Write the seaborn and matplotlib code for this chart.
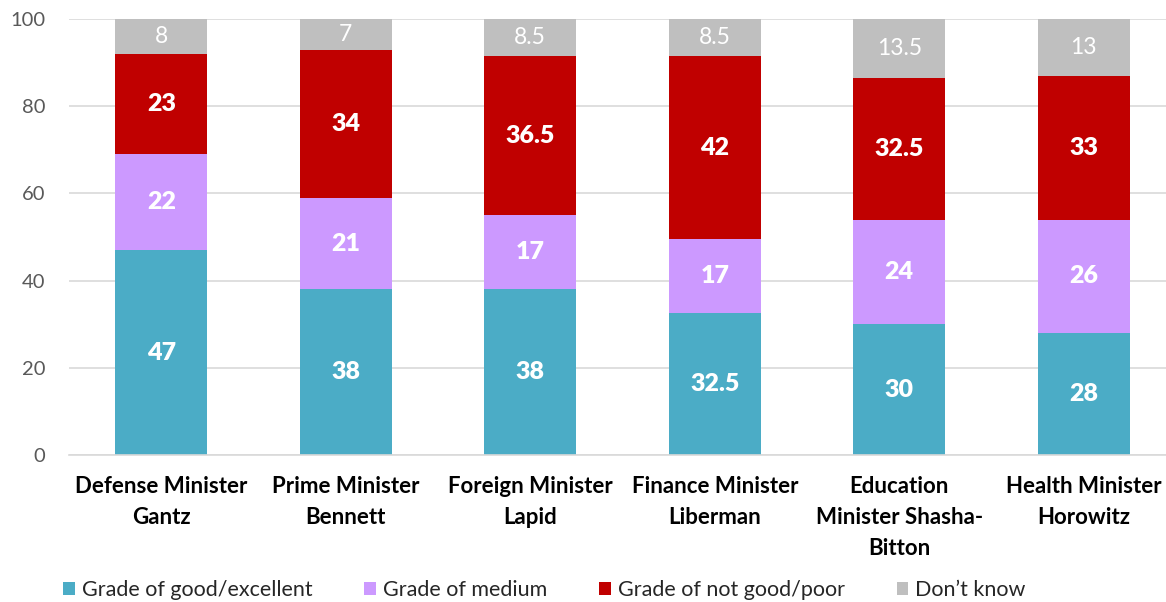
import matplotlib
matplotlib.use("Agg")
import matplotlib.pyplot as plt
import seaborn as sns
import numpy as np
import pandas as pd
from matplotlib.patches import Patch

categories = ["Defense Minister\nGantz", "Prime Minister\nBennett", "Foreign Minister\nLapid",
              "Finance Minister\nLiberman", "Education\nMinister Shasha-\nBitton", "Health Minister\nHorowitz"]
good = [47, 38, 38, 32.5, 30, 28]
medium = [22, 21, 17, 17, 24, 26]
poor = [23, 34, 36.5, 42, 32.5, 33]
dontknow = [8, 7, 8.5, 8.5, 13.5, 13]
series_names = ["Grade of good/excellent", "Grade of medium", "Grade of not good/poor", "Don\u2019t know"]
colors = ["#4BACC6", "#CC99FF", "#C00000", "#BFBFBF"]
yticks = [0, 20, 40, 60, 80, 100]

sns.set_theme(style="white")
plt.rcParams['font.family'] = ['Lato', 'DejaVu Sans']

fig = plt.figure(figsize=(11.66, 6.02), dpi=100)
ax = fig.add_axes([69/1166, (602-455)/602, (1176-69)/1166, (455-19)/602])

series = [good, medium, poor, dontknow]
bottom = np.zeros(len(categories))
for vals, name, col in zip(series, series_names, colors):
    df = pd.DataFrame({"cat": categories, "val": vals})
    sns.barplot(data=df, x="cat", y="val", bottom=bottom, color=col, width=0.5,
                ax=ax, saturation=1, linewidth=0, order=categories)
    bottom = bottom + np.array(vals)

# labels
bottom = np.zeros(len(categories))
for si, vals in enumerate(series):
    for i, v in enumerate(vals):
        txt = f"{v:g}"
        if si == 3:
            ax.text(i, bottom[i] + v / 2, txt, ha="center", va="center", color="white",
                    fontsize=16.5)
        else:
            ax.text(i, bottom[i] + v / 2, txt, ha="center", va="center", color="white",
                    fontsize=18, fontweight="heavy")
    bottom = bottom + np.array(vals)

ax.set_ylim(0, 100)
ax.set_xlim(-0.5, 5.5)
ax.set_yticks(yticks)
ax.yaxis.grid(True, color="#D9D9D9", linewidth=1.2)
ax.set_axisbelow(True)
for s in ["top", "right", "left"]:
    ax.spines[s].set_visible(False)
ax.spines["bottom"].set_color("#D9D9D9")
ax.spines["bottom"].set_linewidth(1.2)
ax.tick_params(axis="y", colors="#595959", labelsize=14.5, length=0, pad=17)
ax.tick_params(axis="x", length=0, pad=15)
for lbl in ax.get_yticklabels():
    lbl.set_color("#595959")
ax.set_xticks(range(len(categories)))
ax.set_xticklabels(categories, fontsize=16, fontweight="bold", color="black", linespacing=1.6)
ax.set_xlabel("")
ax.set_ylabel("")

handles = [Patch(facecolor=c, edgecolor="none") for c in colors]
fig.legend(handles, series_names, loc="center", bbox_to_anchor=(0.467, 0.02), ncol=4,
           frameon=False, fontsize=15.5, handlelength=0.55, handleheight=0.55,
           handletextpad=0.32, columnspacing=2.4, labelcolor="#262626")

fig.savefig("out.png", dpi=100)
